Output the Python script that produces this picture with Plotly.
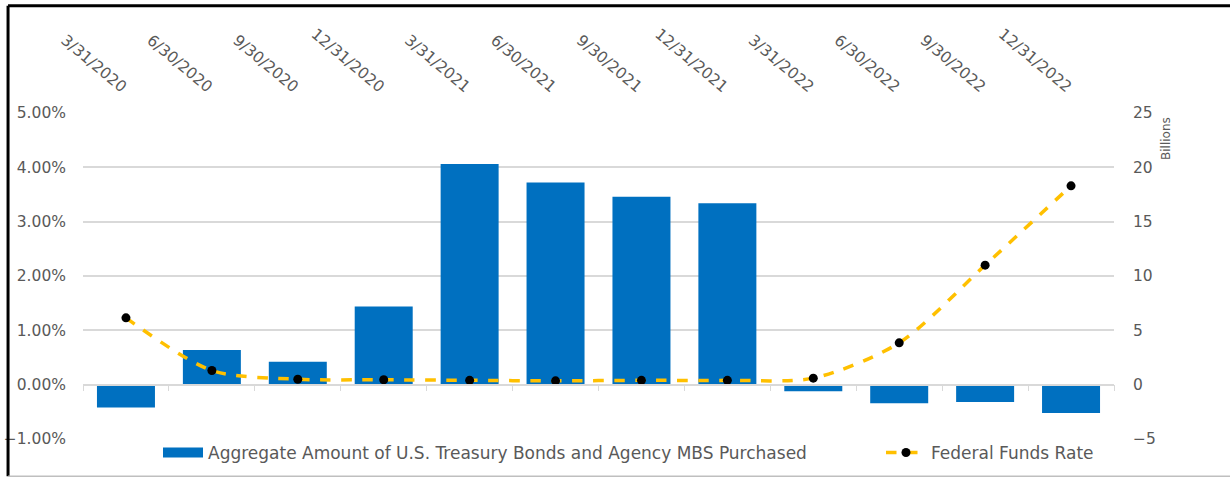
import plotly.graph_objects as go

dates = ["3/31/2020", "6/30/2020", "9/30/2020", "12/31/2020", "3/31/2021", "6/30/2021",
         "9/30/2021", "12/31/2021", "3/31/2022", "6/30/2022", "9/30/2022", "12/31/2022"]
purchases_bn = [-2.1, 3.2, 2.1, 7.2, 20.3, 18.6, 17.3, 16.7, -0.6, -1.7, -1.6, -2.6]
fed_funds = [0.0123, 0.0026, 0.0010, 0.0009, 0.0008, 0.0007, 0.0008, 0.0008, 0.0012, 0.0077, 0.0220, 0.0366]

bar_name = "Aggregate Amount of U.S. Treasury Bonds and Agency MBS Purchased"
line_name = "Federal Funds Rate"

FONT = "DejaVu Sans"
GRAY = "#595959"
GRID = "#d9d9d9"
BLUE = "#0070C0"

fig = go.Figure()
fig.add_trace(go.Bar(
    x=dates, y=purchases_bn, xaxis="x", yaxis="y", name=bar_name,
    marker=dict(color=BLUE, line=dict(width=0)), showlegend=False, legendgroup="bars",
))
# legend key for the bars (wide rectangle like the original)
fig.add_trace(go.Scatter(
    x=[None], y=[None], xaxis="x", yaxis="y", name=bar_name, mode="lines",
    line=dict(color=BLUE, width=13), legend="legend", legendgroup="bars",
))
fig.add_trace(go.Scatter(
    x=dates, y=fed_funds, xaxis="x2", yaxis="y2", name=line_name,
    mode="lines+markers",
    line=dict(color="#FFC000", width=3.5, dash="dash", shape="spline", smoothing=0.8),
    marker=dict(color="black", size=9), legend="legend2",
))

legend_common = dict(orientation="h", xanchor="left", yanchor="middle",
                     font=dict(family=FONT, size=17, color=GRAY),
                     bgcolor="rgba(0,0,0,0)", itemwidth=40)

fig.update_layout(
    width=1230, height=477,
    margin=dict(l=83, r=116, t=113, b=38, autoexpand=False),
    paper_bgcolor="white", plot_bgcolor="white",
    font=dict(family=FONT, size=15, color=GRAY),
    bargap=0.325,
    showlegend=True,
    legend=dict(x=(158 - 83) / 1031, y=(439 - 453) / 326, **legend_common),
    legend2=dict(x=(881 - 83) / 1031, y=(439 - 453) / 326, **legend_common),
    xaxis=dict(type="category", categoryorder="array", categoryarray=dates,
               range=[-0.5, 11.5], anchor="free", position=1/6,
               showline=True, linecolor=GRID, linewidth=1.5,
               ticks="outside", tickson="boundaries", ticklen=6, tickcolor=GRID,
               showticklabels=False, showgrid=False, zeroline=False),
    xaxis2=dict(type="category", categoryorder="array", categoryarray=dates,
                range=[-0.5, 11.5], overlaying="x", side="top", anchor="y",
                tickangle=40, showline=False, showgrid=False, zeroline=False,
                ticks="", ticklabelstandoff=14,
                tickfont=dict(family=FONT, size=15.5, color=GRAY)),
    yaxis=dict(side="right", range=[-5, 25], dtick=5, showgrid=True, gridcolor=GRID,
               gridwidth=1.5, zeroline=False, showline=False, ticks="",
               ticklabelstandoff=18, tickfont=dict(family=FONT, size=15.5, color=GRAY)),
    yaxis2=dict(side="left", overlaying="y", range=[-0.01, 0.05], dtick=0.01,
                tickformat=".2%", showgrid=False, zeroline=False, showline=False,
                ticks="", ticklabelstandoff=16,
                tickfont=dict(family=FONT, size=15.5, color=GRAY)),
    annotations=[dict(text="Billions", textangle=-90, xref="paper", yref="paper",
                      x=(1166 - 83) / 1031, y=(439 - 139) / 326,
                      xanchor="center", yanchor="middle", showarrow=False,
                      font=dict(family=FONT, size=12, color=GRAY))],
    shapes=[
        dict(type="line", xref="paper", yref="paper", x0=-0.0727, x1=1.2, y0=1.329, y1=1.329,
             line=dict(color="black", width=3)),
        dict(type="line", xref="paper", yref="paper", x0=-0.0727, x1=-0.0727, y0=1.329, y1=-0.114,
             line=dict(color="black", width=3)),
        dict(type="line", xref="paper", yref="paper", x0=-0.0727, x1=1.2, y0=-0.114, y1=-0.114,
             line=dict(color="#bfbfbf", width=1.5)),
    ],
)

fig.write_html("out.html", post_script="document.body.style.margin='0';",
               config={"displayModeBar": False})
